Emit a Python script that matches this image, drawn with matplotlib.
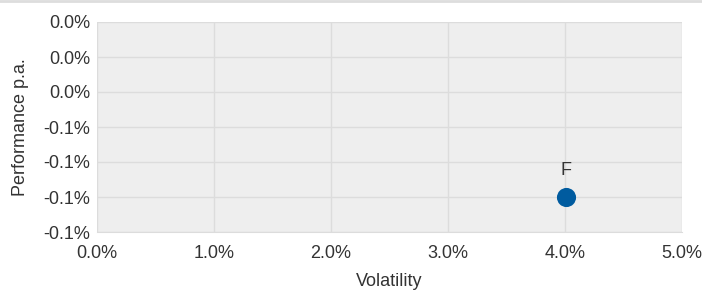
import matplotlib
matplotlib.use('Agg')
import matplotlib.pyplot as plt
from matplotlib.lines import Line2D

# data
vol = [4.01]
perf = [-0.06]
names = ['F']

x_ticks = [0, 1, 2, 3, 4, 5]
x_labels = ['0.0%', '1.0%', '2.0%', '3.0%', '4.0%', '5.0%']
y_ticks = [0.04, 0.02, 0.0, -0.02, -0.04, -0.06, -0.08]
y_labels = ['0.0%', '0.0%', '0.0%', '-0.1%', '-0.1%', '-0.1%', '-0.1%']

plt.rcParams['font.family'] = ['Liberation Sans', 'DejaVu Sans']

fig = plt.figure(figsize=(7.02, 2.91), dpi=100)
ax = fig.add_axes([97/702, 1 - 232/291, 585/702, 210/291])
ax.set_facecolor('#eeeeee')

ax.scatter(vol, perf, s=190, color='#005b9f', zorder=3, linewidths=0)
for x, y, n in zip(vol, perf, names):
    ax.annotate(n, (x, y), xytext=(0, 13), textcoords='offset points',
                ha='center', va='bottom', fontsize=13, color='#333333')

ax.set_xlim(0, 5)
ax.set_ylim(-0.08, 0.04)
ax.set_xticks(x_ticks)
ax.set_xticklabels(x_labels)
ax.set_yticks(y_ticks)
ax.set_yticklabels(y_labels)
ax.tick_params(length=0, labelsize=13, labelcolor='#333333', pad=5)
ax.tick_params(axis='x', pad=9)
ax.grid(True, color='#dcdcdc', linewidth=1)
ax.set_axisbelow(True)
for s in ax.spines.values():
    s.set_visible(False)
ax.spines['bottom'].set_visible(True)
ax.spines['bottom'].set_color('#dcdcdc')

ax.set_xlabel('Volatility', fontsize=13, color='#333333', labelpad=8)
ax.set_ylabel('Performance p.a.', fontsize=13, color='#333333', labelpad=10)

fig.add_artist(Line2D([0, 1], [0.997, 0.997], color='#dddddd', linewidth=2,
                      transform=fig.transFigure))

plt.savefig('out.png', dpi=100)
